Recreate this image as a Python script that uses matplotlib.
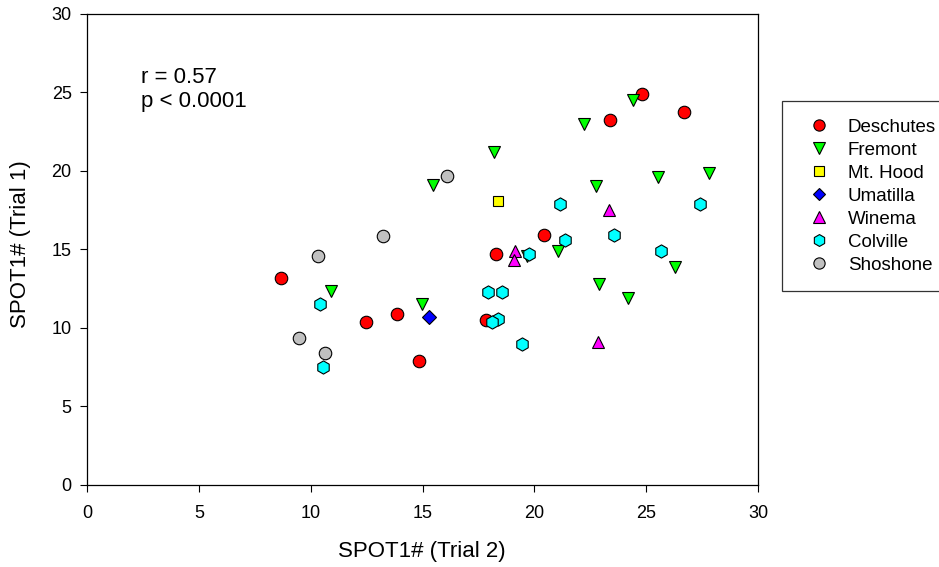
import matplotlib
matplotlib.use("Agg")
import matplotlib.pyplot as plt

plt.rcParams['font.family'] = ['Liberation Sans', 'DejaVu Sans']

deschutes_x = [24.80, 26.69, 23.40, 20.44, 18.28, 17.84, 8.67, 12.48, 13.84, 14.84]
deschutes_y = [24.93, 23.73, 23.22, 15.91, 14.71, 10.50, 13.16, 10.37, 10.88, 7.90]

fremont_x = [24.43, 22.23, 18.18, 15.49, 22.74, 25.52, 27.80, 21.04, 19.66, 26.29,
             22.91, 24.18, 14.99, 10.90]
fremont_y = [24.54, 23.01, 21.21, 19.10, 19.05, 19.61, 19.86, 14.88, 14.54, 13.84,
             12.80, 11.86, 11.48, 12.33]

mthood_x = [18.39]
mthood_y = [18.08]

umatilla_x = [15.30]
umatilla_y = [10.71]

winema_x = [23.35, 19.13, 19.10, 22.83]
winema_y = [17.48, 14.86, 14.33, 9.10]

colville_x = [21.16, 27.39, 23.57, 21.37, 19.75, 25.66, 17.93, 18.54, 18.39, 18.12,
              19.45, 10.43, 10.57]
colville_y = [17.89, 17.91, 15.93, 15.59, 14.71, 14.91, 12.29, 12.29, 10.54, 10.33,
              8.99, 11.48, 7.48]

shoshone_x = [16.10, 13.22, 10.32, 9.49, 10.66]
shoshone_y = [19.65, 15.84, 14.57, 9.33, 8.40]

series = [
    ("Deschutes", deschutes_x, deschutes_y, "o", "#ff0000"),
    ("Fremont", fremont_x, fremont_y, "v", "#00ff00"),
    ("Mt. Hood", mthood_x, mthood_y, "s", "#ffff00"),
    ("Umatilla", umatilla_x, umatilla_y, "D", "#0000ff"),
    ("Winema", winema_x, winema_y, "^", "#ff00ff"),
    ("Colville", colville_x, colville_y, "h", "#00ffff"),
    ("Shoshone", shoshone_x, shoshone_y, "o", "#c0c0c0"),
]

marker_sizes = {"o": 9.0, "v": 9.0, "s": 7.5, "D": 7.0, "^": 9.0, "h": 9.5}

W, H = 939, 567
fig = plt.figure(figsize=(W / 100, H / 100), dpi=100)
ax_l, ax_r, ax_t, ax_b = 87, 758, 14, 484.5
ax = fig.add_axes([ax_l / W, 1 - ax_b / H, (ax_r - ax_l) / W, (ax_b - ax_t) / H])

handles = []
for name, xs, ys, mk, col in series:
    h, = ax.plot(xs, ys, linestyle="none", marker=mk, markersize=marker_sizes[mk],
                 markerfacecolor=col, markeredgecolor="black",
                 markeredgewidth=0.8, label=name)
    handles.append(h)

ax.set_xlim(0, 30)
ax.set_ylim(0, 30)
ax.set_xticks(range(0, 31, 5))
ax.set_yticks(range(0, 31, 5))
for sp in ax.spines.values():
    sp.set_linewidth(0.9)
ax.tick_params(direction="out", length=5, labelsize=13, width=0.8)
ax.tick_params(axis="x", pad=10)
ax.tick_params(axis="y", pad=6)

ax.set_xlabel("SPOT1# (Trial 2)", fontsize=16, va="top")
ax.xaxis.set_label_coords(0.4985, -0.120)
ax.set_ylabel("SPOT1# (Trial 1)", fontsize=16, va="center")
ax.yaxis.set_label_coords(-0.0988, 0.51)

ax.text(2.4, 25.95, "r = 0.57", fontsize=16, va="center", ha="left")
ax.text(2.4, 24.4, "p < 0.0001", fontsize=16, va="center", ha="left")

leg = fig.legend(handles=handles, loc="upper left",
                 bbox_to_anchor=(782 / W, 1 - 101 / H),
                 fontsize=13.5, frameon=True, fancybox=False,
                 edgecolor="#333333", framealpha=1, markerscale=0.9,
                 handletextpad=0.56, labelspacing=0.31,
                 borderpad=0.95, handlelength=2.0, borderaxespad=0)
leg.get_frame().set_linewidth(0.9)

fig.savefig("out.png", dpi=100)
